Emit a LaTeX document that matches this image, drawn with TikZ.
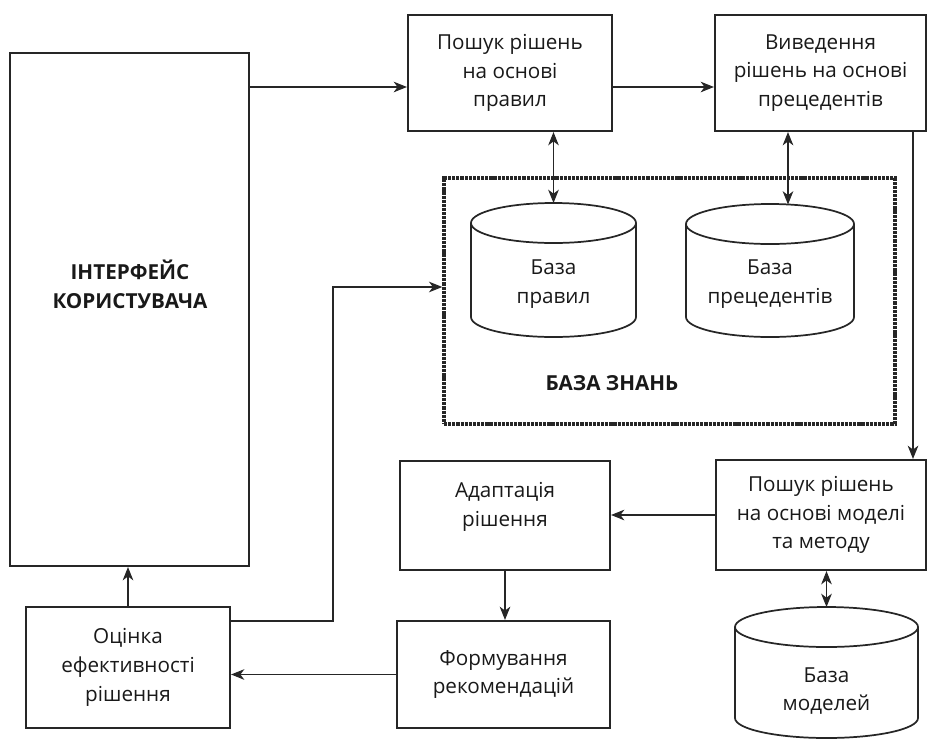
\documentclass[tikz,border=0pt]{standalone}
\usepackage{fontspec}
\setmainfont{Open Sans}
\usetikzlibrary{arrows.meta,calc}
\newcommand\drawcyl[6]{% name, cx, ytop, ybot, rx, ry
  \draw[cylst] (#2-#5,#3) -- (#2-#5,#4) arc[start angle=180,end angle=0,x radius=#5,y radius=#6] -- (#2+#5,#3);
  \draw[cylst] (#2,#3) ellipse[x radius=#5,y radius=#6];
  \coordinate (#1) at (#2,#3-#6);}
\begin{document}
\begin{tikzpicture}[x=0.75pt,y=-0.75pt,
  txt/.style={text=black!90,align=center,font=\fontsize{15.5}{21.5}\selectfont,inner sep=0pt},
  boldtxt/.style={txt,font=\fontsize{15.5}{21.5}\selectfont\bfseries},
  box/.style={draw=black!85,line width=1.6pt,txt},
  sz/.style 2 args={minimum width=#1*0.75pt,minimum height=#2*0.75pt},
  cylst/.style={draw=black!85,line width=1.3pt},
  conn/.style={draw=black!85,line width=0.8pt},
  tip/.tip={Stealth[length=10pt,width=8pt,inset=3pt]},
  arr/.style={conn,-tip},
  darr/.style={conn,tip-tip},
  kbst/.style={draw=black!85,line width=2.6pt,dash pattern=on 2.4pt off 0.7pt}]
\useasboundingbox (0,0) rectangle (928,740);
% boxes
\node[box,sz={239}{513}] (ui) at (129.5,309.5) {};
\node[boldtxt] (uitext) at (130,284) {ІНТЕРФЕЙС\\КОРИСТУВАЧА};
\node[box,sz={204}{116}] (r1) at (510,73) {Пошук рішень\\на основі\\правил};
\node[box,sz={211}{116}] (r2) at (820.5,73) {Виведення\\рішень на основі\\прецедентів};
\node[kbst,sz={451}{246},inner sep=0pt] (kb) at (669.5,301) {};
\node[boldtxt] (kbtext) at (612,383) {БАЗА ЗНАНЬ};
\node[box,sz={210}{110}] (m1) at (821,515) {Пошук рішень\\на основі моделі\\та методу};
\node[box,sz={210}{109}] (ad) at (505,515.5) {};
\node[txt] (adtext) at (505,507) {Адаптація\\рішення};
\node[box,sz={213}{107}] (fr) at (503.5,674.5) {Формування\\рекомендацій};
\node[box,sz={204}{121}] (oc) at (128,667.5) {Оцінка\\ефективності\\рішення};
% cylinders
\drawcyl{bpr}{553.5}{223}{317}{82.5}{20}
\node[txt] (bprtext) at (553.5,284) {База\\правил};
\drawcyl{bprec}{770}{224}{317}{84}{20}
\node[txt] (bprectext) at (770,284) {База\\прецедентів};
\drawcyl{bmod}{826.5}{627}{718}{91.5}{20}
\node[txt] (bmodtext) at (826.5,691) {База\\моделей};
\coordinate (bprecin) at (788,204.5);
% connectors
\coordinate (y87) at (0,87);
\coordinate (y621) at (0,621);
\coordinate (bend) at (333,287);
\coordinate (x913) at (913,0);
\draw[arr] (ui.east |- y87) -- (r1.west |- y87);
\draw[arr] (r1.east |- y87) -- (r2.west |- y87);
\draw[darr] (r1.south -| bpr) -- (bpr);
\draw[darr] (r2.south -| bprecin) -- (bprecin);
\draw[arr] (r2.south -| x913) -- (m1.north -| x913);
\draw[darr] (m1.south -| bmod) -- (bmod);
\draw[arr] (m1.west) -- (ad.east |- m1.west);
\draw[arr] (ad.south) -- (ad.south |- fr.north);
\draw[arr] (fr.west) -- (oc.east |- fr.west);
\draw[arr] (oc.north) -- (oc.north |- ui.south);
\draw[arr] (oc.east |- y621) -| (bend) -- (kb.west |- bend);
\end{tikzpicture}
\end{document}
